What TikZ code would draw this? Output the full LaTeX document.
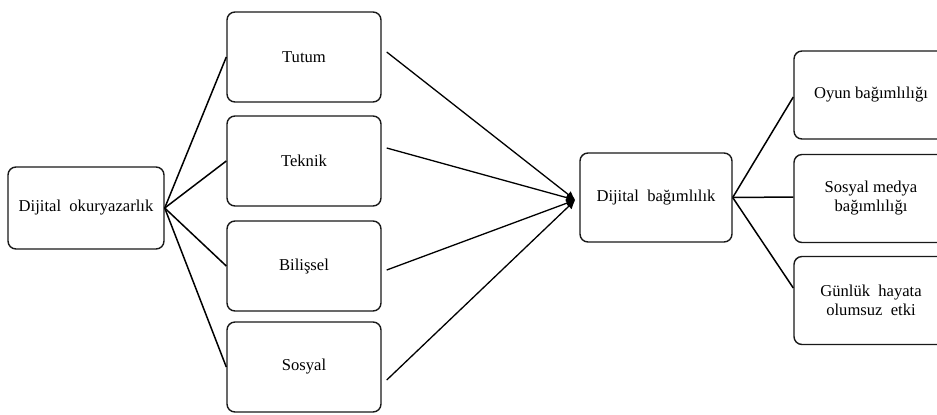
\documentclass[tikz,border=0pt]{standalone}
\usepackage{fontspec}
\setmainfont{Liberation Serif}
\usetikzlibrary{arrows.meta,calc}
\begin{document}
\begin{tikzpicture}[x=0.5pt,y=-0.5pt,
  box/.style={draw=black!90, line width=0.7pt, rounded corners=4pt, align=center,
    inner sep=0pt, fill=white, font=\fontsize{8.3}{9.5}\selectfont},
  midbox/.style={box, minimum width=77pt, minimum height=45pt},
  rbox/.style={box, minimum width=77pt, minimum height=44pt},
  link/.style={draw=black, line width=0.75pt},
  arr/.style={link, line width=0.65pt, -{Latex[length=4.5pt,width=4.2pt]}}]
\useasboundingbox (0,0) rectangle (937,414);
\clip (0,0) rectangle (937,414);
% nodes
\node[box, minimum width=78pt, minimum height=41pt] (dok) at (86,208) {Dijital\ \ okuryazarlık};
\node[midbox] (tutum) at (304,57) {Tutum};
\node[midbox] (teknik) at (304,161) {Teknik};
\node[midbox] (bilis) at (304,266) {Bilişsel};
\node[midbox] (sosyal) at (304,367) {Sosyal};
\node[box, minimum width=76pt, minimum height=44.5pt] (dbag) at (656,197.5) {Dijital\ \ bağımlılık};
\node[rbox] (oyun) at (871,95) {Oyun bağımlılığı};
\node[rbox] (medya) at (871,198.5) {Sosyal medya\\bağımlılığı};
\node[rbox] (gunluk) at (871,300.5) {Günlük\ \ hayata\\olumsuz\ \ etki};
% left fan
\draw[link] (dok.east) -- (tutum.west);
\draw[link] (dok.east) -- (teknik.west);
\draw[link] (dok.east) -- (bilis.west);
\draw[link] (dok.east) -- (sosyal.west);
% converging arrows
\coordinate (tip) at ([shift={(-4,2.5)}]dbag.west);
\draw[arr] ([shift={(5,-5)}]tutum.east) -- (tip);
\draw[arr] ([shift={(5,-13)}]teknik.east) -- (tip);
\draw[arr] ([shift={(5,4)}]bilis.east) -- (tip);
\draw[arr] ([shift={(5,13)}]sosyal.east) -- (tip);
% right fan
\draw[link] (dbag.east) -- ([yshift=-1pt]oyun.west);
\draw[link] (dbag.east) -- ([yshift=0.75pt]medya.west);
\draw[link] (dbag.east) -- ([yshift=6.25pt]gunluk.west);
\end{tikzpicture}
\end{document}
